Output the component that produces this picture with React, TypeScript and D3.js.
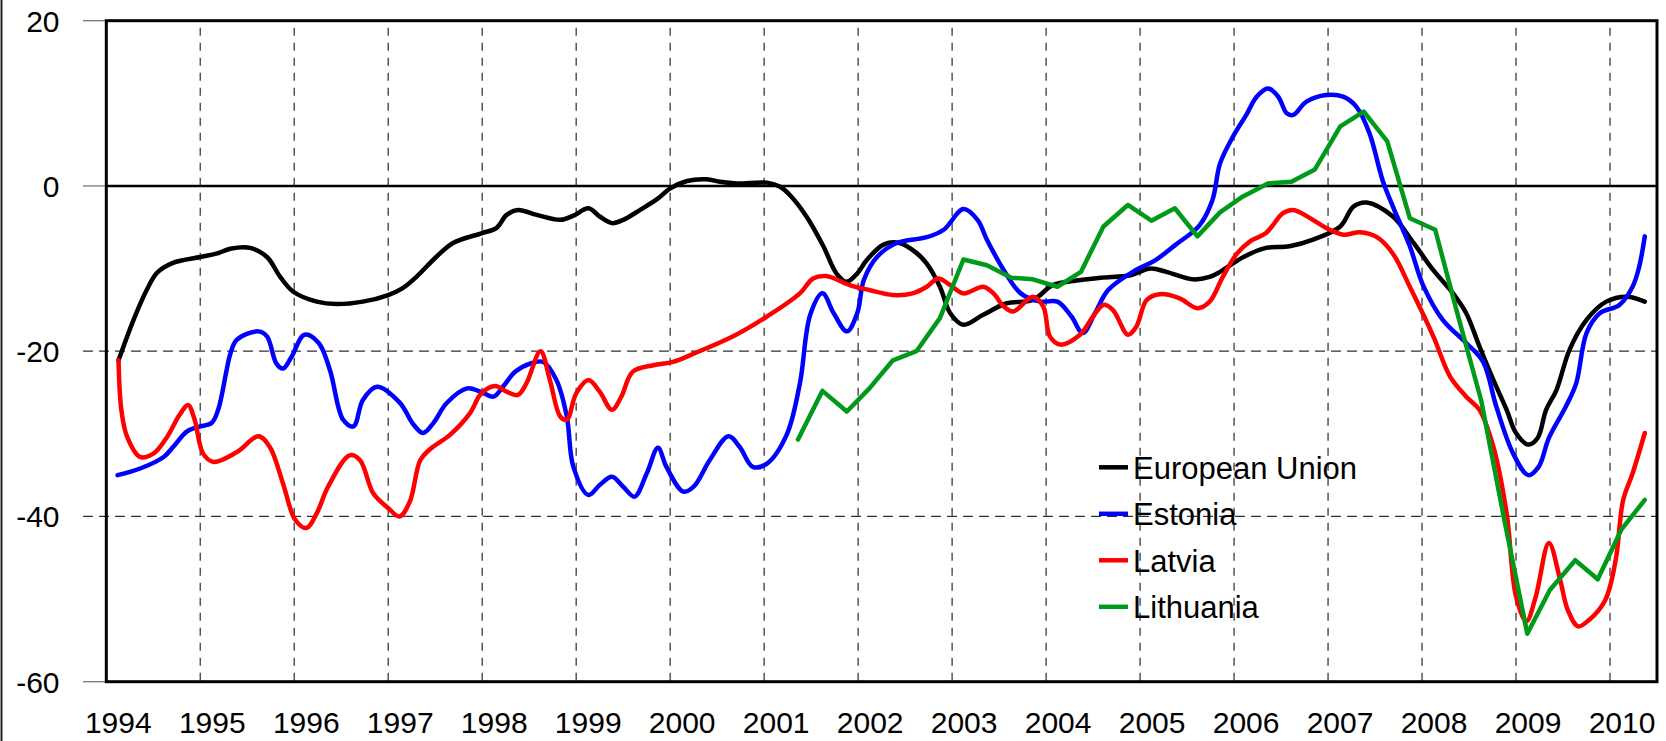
import React from 'react'
import * as d3 from 'd3'

// decimal year / value pairs
const euT = [1994.13, 1994.29, 1994.43, 1994.54, 1994.71, 1995.0, 1995.17, 1995.32, 1995.53, 1995.71, 1995.85, 1995.99, 1996.24, 1996.45, 1996.73, 1997.0, 1997.15, 1997.3, 1997.51, 1997.69, 1998.0, 1998.15, 1998.26, 1998.38, 1998.58, 1998.83, 1998.97, 1999.13, 1999.25, 1999.38, 1999.5, 1999.68, 1999.86, 2000.0, 2000.18, 2000.39, 2000.53, 2000.71, 2001.03, 2001.17, 2001.29, 2001.45, 2001.63, 2001.77, 2001.88, 2001.99, 2002.09, 2002.27, 2002.44, 2002.62, 2002.73, 2002.87, 2002.98, 2003.12, 2003.33, 2003.58, 2003.86, 2004.07, 2004.29, 2004.58, 2004.9, 2005.11, 2005.28, 2005.56, 2005.74, 2005.85, 2006.1, 2006.34, 2006.59, 2006.84, 2007.13, 2007.27, 2007.41, 2007.69, 2007.91, 2008.12, 2008.33, 2008.47, 2008.61, 2008.76, 2008.9, 2009.0, 2009.13, 2009.23, 2009.32, 2009.43, 2009.57, 2009.75, 2009.96, 2010.18, 2010.37]
const euV = [-21.1, -16.2, -12.6, -10.5, -9.3, -8.6, -8.2, -7.6, -7.5, -8.6, -11.0, -12.8, -14.0, -14.3, -14.0, -13.2, -12.4, -11.0, -8.6, -6.9, -5.7, -5.1, -3.5, -2.9, -3.5, -4.1, -3.6, -2.7, -3.7, -4.5, -4.1, -2.9, -1.6, -0.3, 0.6, 0.8, 0.5, 0.3, 0.4, -0.1, -1.3, -3.7, -7.3, -10.6, -11.6, -10.6, -9.0, -7.1, -6.9, -8.1, -9.4, -12.2, -15.4, -16.8, -15.6, -14.2, -13.8, -12.0, -11.5, -11.1, -10.8, -10.0, -10.4, -11.3, -11.0, -10.4, -8.6, -7.5, -7.3, -6.5, -4.9, -2.5, -2.0, -3.7, -6.9, -10.2, -13.0, -15.4, -19.4, -23.5, -27.1, -29.9, -31.3, -30.5, -27.1, -24.7, -19.8, -16.2, -14.0, -13.4, -14.0]

const estT = [1994.12, 1994.36, 1994.61, 1994.71, 1994.86, 1995.0, 1995.12, 1995.19, 1995.28, 1995.32, 1995.39, 1995.62, 1995.71, 1995.81, 1995.88, 1995.97, 1996.11, 1996.26, 1996.38, 1996.52, 1996.63, 1996.73, 1996.88, 1997.12, 1997.27, 1997.37, 1997.48, 1997.62, 1997.84, 1997.98, 1998.12, 1998.22, 1998.35, 1998.51, 1998.65, 1998.79, 1998.9, 1998.97, 1999.13, 1999.25, 1999.38, 1999.5, 1999.62, 1999.75, 1999.87, 1999.96, 2000.14, 2000.25, 2000.42, 2000.62, 2000.74, 2000.88, 2001.03, 2001.24, 2001.38, 2001.49, 2001.62, 2001.74, 2001.88, 2001.99, 2002.06, 2002.2, 2002.41, 2002.73, 2002.91, 2003.12, 2003.27, 2003.37, 2003.55, 2003.73, 2003.94, 2004.12, 2004.27, 2004.39, 2004.52, 2004.66, 2004.95, 2005.16, 2005.38, 2005.63, 2005.77, 2005.85, 2005.99, 2006.13, 2006.24, 2006.36, 2006.47, 2006.56, 2006.63, 2006.77, 2006.98, 2007.16, 2007.3, 2007.44, 2007.58, 2007.69, 2007.87, 2008.01, 2008.22, 2008.47, 2008.65, 2008.79, 2008.97, 2009.13, 2009.24, 2009.35, 2009.53, 2009.64, 2009.75, 2009.89, 2010.1, 2010.24, 2010.31, 2010.37]
const estV = [-35.0, -34.2, -32.8, -31.6, -29.7, -29.1, -28.7, -27.1, -22.3, -20.3, -18.6, -17.6, -18.2, -21.5, -22.1, -20.7, -18.0, -19.0, -22.3, -28.3, -29.1, -25.9, -24.3, -26.2, -28.9, -29.9, -28.7, -26.3, -24.5, -24.9, -25.5, -24.3, -22.5, -21.5, -21.3, -23.5, -27.9, -34.0, -37.4, -36.2, -35.2, -36.4, -37.6, -34.8, -31.7, -34.0, -37.0, -36.4, -33.2, -30.3, -31.6, -34.0, -33.6, -30.1, -23.9, -15.6, -13.0, -15.4, -17.6, -15.4, -11.4, -8.6, -6.9, -6.2, -5.3, -2.8, -4.1, -6.5, -10.2, -13.0, -14.0, -14.0, -15.8, -17.8, -15.4, -12.6, -10.2, -9.0, -7.1, -4.8, -1.7, 2.7, 6.0, 8.6, 10.8, 11.8, 10.8, 8.8, 8.6, 10.2, 11.0, 10.8, 9.6, 6.4, 0.7, -2.5, -7.3, -12.0, -16.2, -19.0, -21.3, -26.7, -32.4, -35.0, -34.0, -30.5, -26.7, -23.9, -17.8, -15.4, -14.4, -12.2, -9.8, -6.1]

const latT = [1994.13, 1994.16, 1994.22, 1994.36, 1994.5, 1994.64, 1994.78, 1994.87, 1994.94, 1995.03, 1995.14, 1995.39, 1995.62, 1995.74, 1995.88, 1996.01, 1996.13, 1996.24, 1996.36, 1996.59, 1996.7, 1996.84, 1997.0, 1997.12, 1997.23, 1997.34, 1997.44, 1997.66, 1997.87, 1997.99, 1998.14, 1998.26, 1998.38, 1998.47, 1998.62, 1998.72, 1998.83, 1998.9, 1999.0, 1999.13, 1999.25, 1999.38, 1999.48, 1999.6, 1999.82, 2000.03, 2000.25, 2000.67, 2001.03, 2001.38, 2001.52, 2001.66, 2001.91, 2002.12, 2002.37, 2002.58, 2002.73, 2002.85, 2002.98, 2003.12, 2003.33, 2003.44, 2003.55, 2003.65, 2003.86, 2003.97, 2004.04, 2004.15, 2004.36, 2004.5, 2004.61, 2004.71, 2004.87, 2004.96, 2005.07, 2005.21, 2005.42, 2005.61, 2005.74, 2005.88, 2006.03, 2006.17, 2006.34, 2006.52, 2006.63, 2006.81, 2006.98, 2007.16, 2007.34, 2007.52, 2007.69, 2007.87, 2008.12, 2008.3, 2008.47, 2008.61, 2008.76, 2008.9, 2009.0, 2009.11, 2009.21, 2009.35, 2009.47, 2009.55, 2009.66, 2009.78, 2009.95, 2010.06, 2010.14, 2010.24, 2010.37]
const latV = [-21.1, -27.1, -30.3, -32.8, -32.4, -30.5, -27.7, -26.5, -28.3, -32.4, -33.4, -32.2, -30.3, -31.6, -36.0, -40.4, -41.4, -39.6, -36.4, -32.6, -33.2, -37.2, -39.0, -40.0, -38.2, -33.2, -31.9, -30.1, -27.5, -25.1, -24.2, -24.9, -25.3, -23.9, -20.0, -23.5, -27.9, -28.3, -25.1, -23.5, -24.9, -27.1, -25.5, -22.5, -21.7, -21.3, -20.3, -18.2, -15.8, -13.0, -11.2, -10.9, -12.0, -12.6, -13.2, -13.0, -12.2, -11.2, -12.0, -13.0, -12.2, -13.0, -14.6, -15.2, -13.4, -14.6, -18.2, -19.2, -18.0, -15.8, -14.4, -15.0, -18.0, -17.0, -13.8, -13.1, -13.6, -14.8, -14.0, -11.0, -8.2, -6.7, -5.7, -3.3, -2.9, -3.9, -5.1, -5.9, -5.6, -6.2, -8.2, -12.2, -18.2, -23.1, -25.5, -27.1, -31.6, -39.6, -49.7, -52.7, -49.7, -43.2, -47.7, -51.3, -53.3, -52.5, -50.1, -45.3, -38.0, -34.8, -29.9]

const litT = [2001.36, 2001.62, 2001.88, 2002.12, 2002.37, 2002.62, 2002.87, 2003.12, 2003.37, 2003.63, 2003.86, 2004.12, 2004.37, 2004.61, 2004.87, 2005.12, 2005.37, 2005.61, 2005.85, 2006.09, 2006.36, 2006.61, 2006.86, 2007.13, 2007.38, 2007.63, 2007.87, 2008.14, 2008.38, 2008.63, 2008.87, 2009.12, 2009.36, 2009.63, 2009.87, 2010.12, 2010.37]
const litV = [-30.7, -24.8, -27.3, -24.5, -21.1, -20.0, -16.0, -8.9, -9.6, -11.1, -11.3, -12.2, -10.4, -4.9, -2.3, -4.2, -2.7, -6.1, -3.2, -1.3, 0.3, 0.5, 2.0, 7.2, 9.0, 5.4, -3.9, -5.3, -15.6, -26.0, -40.1, -54.2, -48.9, -45.3, -47.6, -41.6, -38.0]

const years = d3.range(1994, 2011)
const yTicks = [20, 0, -20, -40, -60]
const seriesNames = ['European Union', 'Estonia', 'Latvia', 'Lithuania']
const seriesColors = ['#000000', '#0000ff', '#ff0000', '#009a1a']

const W = 1666
const H = 741
const left = 106.3
const right = 1657
const top = 20.7
const bottom = 681.7
const font = '"Liberation Sans", Arial, sans-serif'

export default function App() {
  const x = d3.scaleLinear().domain([1994, 2010.5]).range([left, right])
  const y = d3.scaleLinear().domain([-60, 20]).range([bottom, top])

  const smooth = d3.line<[number, number]>()
    .x(d => x(d[0]))
    .y(d => y(d[1]))
    .curve(d3.curveCatmullRom.alpha(0.5))
  const straight = d3.line<[number, number]>()
    .x(d => x(d[0]))
    .y(d => y(d[1]))

  const zip = (t: number[], v: number[]) => t.map((d, i) => [d, v[i]] as [number, number])
  const paths = [
    smooth(zip(euT, euV)),
    smooth(zip(estT, estV)),
    smooth(zip(latT, latV)),
    straight(zip(litT, litV)),
  ]

  return (
    <svg width={W} height={H} style={{ position: 'absolute', left: 0, top: 0, display: 'block', background: '#fff' }}>
      <line x1={1.5} x2={1.5} y1={0} y2={H} stroke="#222" strokeWidth={2} />

      {/* vertical dashed grid */}
      {years.slice(1).map(yr => (
        <line key={'v' + yr} x1={x(yr)} x2={x(yr)} y1={top + 7} y2={bottom}
          stroke="#555" strokeWidth={1.5} strokeDasharray="8,7" />
      ))}

      {/* horizontal grid and ticks */}
      {yTicks.map(t => (
        t === -20 || t === -40 ? (
          <line key={'h' + t} x1={83} x2={right} y1={y(t)} y2={y(t)}
            stroke="#333" strokeWidth={1.3} strokeDasharray="10,6" />
        ) : (
          <line key={'h' + t} x1={83} x2={left} y1={y(t)} y2={y(t)} stroke="#777" strokeWidth={1.3} />
        )
      ))}
      <line x1={left} x2={right} y1={y(0)} y2={y(0)} stroke="#000" strokeWidth={2.5} />

      {yTicks.map(t => (
        <text key={'yl' + t} x={59.5} y={y(t) + 11} textAnchor="end"
          fontFamily={font} fontSize={30} fill="#000">{t}</text>
      ))}
      {years.map(yr => (
        <text key={'xl' + yr} x={x(yr) + 12} y={732.5} textAnchor="middle"
          fontFamily={font} fontSize={30} fill="#000">{yr}</text>
      ))}

      {paths.map((p, i) => (
        <path key={'s' + i} d={p || ''} fill="none" stroke={seriesColors[i]}
          strokeWidth={4.5} strokeLinejoin="round" strokeLinecap="round" />
      ))}

      <rect x={left} y={top} width={right - left} height={bottom - top}
        fill="none" stroke="#000" strokeWidth={3} />

      {/* legend */}
      {seriesNames.map((n, i) => (
        <g key={'lg' + i} transform={`translate(1099, ${467.3 + i * 46.5})`}>
          <line x1={0} x2={29} y1={0} y2={0} stroke={seriesColors[i]} strokeWidth={4.5} />
          <text x={34} y={11.5} fontFamily={font} fontSize={31} fill="#000">{n}</text>
        </g>
      ))}
    </svg>
  )
}
